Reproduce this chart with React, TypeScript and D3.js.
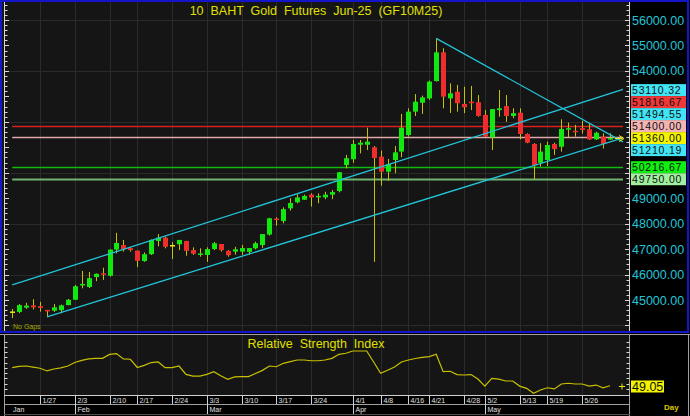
import React, { useEffect, useRef } from 'react';
import * as d3 from 'd3';

const dates = [
  '1/21', '1/22', '1/23', '1/24', '1/27', '1/28', '1/29', '1/30', '1/31',
  '2/3', '2/4', '2/5', '2/6', '2/7', '2/10', '2/11', '2/13', '2/14',
  '2/17', '2/18', '2/19', '2/20', '2/21', '2/24', '2/25', '2/26', '2/27', '2/28',
  '3/3', '3/4', '3/5', '3/6', '3/7', '3/10', '3/11', '3/12', '3/13', '3/14',
  '3/17', '3/18', '3/19', '3/20', '3/21', '3/24', '3/25', '3/26', '3/27', '3/28', '3/31',
  '4/1', '4/2', '4/3', '4/4', '4/8', '4/9', '4/10', '4/11', '4/16', '4/17', '4/18',
  '4/21', '4/22', '4/23', '4/24', '4/25', '4/28', '4/29', '4/30',
  '5/2', '5/6', '5/7', '5/8', '5/9', '5/13', '5/14', '5/15', '5/16',
  '5/19', '5/20', '5/21', '5/22', '5/23', '5/26', '5/27', '5/28', '5/29', '5/30',
];

const opens = [
  44550, 44530, 44700, 44790, 44760, 44610, 44580, 44600, 44800,
  45010, 45600, 45510, 45900, 46050, 45950, 46980, 47160, 47040,
  46940, 46530, 46800, 47320, 47450, 47160, 47190, 47320, 46960, 46780,
  46770, 47000, 47200, 46930, 46900, 46900, 46890, 47030, 47160, 47570,
  48200, 48100, 48600, 48840, 48940, 49140, 49030, 49030, 49140, 49280, 50300,
  50530, 51100, 51100, 51000, 50630, 50040, 50500, 50830, 51480, 52400, 52750,
  52920, 53600, 54730, 52920, 53180, 52700, 52790, 52770,
  52270, 51390, 52460, 52620, 52230, 52360, 51520, 51130, 50390,
  50500, 51130, 51020, 51700, 51650, 51750, 51710, 51310, 51420, 51310,
];
const highs = [
  44650, 44840, 44890, 45030, 44930, 44610, 44840, 44820, 45040,
  45590, 46140, 46100, 46040, 46270, 46990, 47640, 47360, 47070,
  46940, 46870, 47380, 47590, 47490, 47270, 47360, 47320, 47070, 47030,
  47070, 47280, 47200, 46960, 47090, 47160, 47040, 47290, 47590, 48230,
  48250, 48640, 49000, 49150, 49140, 49190, 49190, 49250, 49320, 50030, 50700,
  51290, 51290, 51770, 51050, 50870, 50540, 51050, 52310, 52530, 53090, 53030,
  53620, 55280, 54890, 53510, 53450, 53380, 53410, 53050,
  52460, 52500, 53250, 53050, 52530, 52530, 51550, 51160, 51160,
  51220, 51180, 52100, 51970, 51880, 52040, 51910, 51610, 51550, 51550,
];
const lows = [
  44290, 44480, 44650, 44630, 44540, 44340, 44530, 44480, 44790,
  45000, 45460, 45470, 45740, 45790, 45920, 46830, 46900, 46900,
  46290, 46500, 46770, 47110, 47030, 46610, 46960, 46740, 46770, 46700,
  46500, 46960, 46900, 46700, 46780, 46770, 46780, 46990, 47050, 47530,
  47920, 48010, 48510, 48800, 48930, 48670, 48800, 48960, 48960, 49230, 50170,
  50390, 50760, 50890, 46500, 49490, 49680, 49980, 50610, 51420, 52230, 52310,
  52860, 53580, 52530, 52350, 52400, 52340, 52460, 52200,
  51390, 50890, 52200, 52000, 52140, 51310, 51160, 49730, 50240,
  50260, 50700, 50830, 51390, 51420, 51540, 51290, 51290, 50950, 51290,
];
const closes = [
  44550, 44800, 44780, 44710, 44690, 44570, 44710, 44790, 45010,
  45540, 45630, 45860, 46030, 46020, 46980, 47240, 46990, 46960,
  46540, 46800, 47360, 47450, 47090, 47160, 47360, 46930, 46820, 46830,
  47000, 47230, 46960, 46760, 46990, 47040, 47040, 47230, 47590, 48210,
  48170, 48570, 48810, 49030, 49090, 49030, 49090, 49140, 49240, 50020, 50570,
  51130, 51180, 51220, 50580, 50040, 50340, 50800, 51770, 52400, 52790, 52960,
  53580, 54730, 52990, 53120, 52730, 52570, 52730, 52230,
  51420, 52500, 52530, 52230, 52340, 51520, 51180, 50300, 50830,
  51090, 50930, 51720, 51750, 51610, 51680, 51310, 51570, 51130, 51360,
];

const rsi = [
  61.1, 62.0, 62.2, 61.5, 60.7, 58.9, 60.2, 60.9, 62.2,
  64.5, 65.9, 66.9, 67.3, 67.3, 69.9, 70.5, 66.9, 66.7,
  61.2, 62.6, 64.5, 64.9, 61.1, 61.1, 62.2, 56.6, 55.5, 55.5,
  56.6, 58.4, 55.7, 53.3, 54.9, 55.1, 55.1, 57.2, 59.3, 62.2,
  61.7, 64.0, 65.1, 66.2, 66.2, 65.7, 65.7, 66.2, 67.3, 70.0, 70.7,
  72.2, 72.2, 72.2, 64.9, 57.3, 59.4, 61.5, 64.9, 66.2, 67.2, 67.9,
  68.5, 70.0, 58.4, 58.7, 56.5, 56.2, 56.5, 53.5,
  48.8, 54.0, 53.5, 52.2, 52.2, 48.8, 47.3, 44.0, 46.2,
  47.7, 46.9, 50.2, 50.7, 50.2, 50.2, 48.8, 49.5, 47.7, 49.05,
];

const weekTicks = ['1/27', '2/3', '2/10', '2/17', '2/24', '3/3', '3/10', '3/17', '3/24',
  '4/1', '4/8', '4/16', '4/21', '4/28', '5/2', '5/13', '5/19', '5/26'];
const monthNames = ['Jan', 'Feb', 'Mar', 'Apr', 'May'];
const monthStarts = ['1/21', '2/3', '3/3', '4/1', '5/2'];

const levelValues = [51816.67, 51400, 50216.67, 49750];
const levelColors = ['#d82020', '#e0a8a8', '#10b810', '#70b470'];
const levelBoxColors = ['#f03838', '#f4b4b4', '#10f010', '#a0f0a0'];

const trendFrom = [0, 5, 61];
const trendFromValues = [45590, 44340, 55280];
const trendToValues = [53110.32, 51210.19, 51494.55];

const lastPrice = 51360;
const lastRsi = 49.05;

const App: React.FC = () => {
  const svgRef = useRef<SVGSVGElement>(null);

  useEffect(() => {
    if (!svgRef.current) return;
    const svg = d3.select(svgRef.current);
    svg.selectAll('*').remove();

    const font = 'Liberation Sans, Arial, sans-serif';
    const last = dates.length - 1;
    const x = d3.scaleLinear().domain([0, last]).range([12.2, 610]);
    const y = d3.scaleLinear().domain([45000, 56000]).range([300, 20]);
    const ry = d3.scaleLinear().domain([40, 80]).range([399.3, 339.3]);
    const px = (i: number) => Math.round(x(i)) + 0.5;
    const endIdx = x.invert(623);
    const cyan = '#22c4d8';
    const wick = '#c8c000';

    svg.append('rect').attr('width', 690).attr('height', 416).attr('fill', '#000');
    svg.append('rect').attr('x', 2).attr('y', 2).attr('width', 627).attr('height', 329).attr('fill', '#151515');
    svg.append('rect').attr('x', 5).attr('y', 335).attr('width', 624).attr('height', 60).attr('fill', '#151515');

    // Grid
    const grid = svg.append('g').attr('stroke', '#2b2b2b').attr('stroke-width', 1);
    d3.range(44000, 56001, 2000).forEach(v => {
      const yy = Math.round(y(v)) + 0.5;
      grid.append('line').attr('x1', 9).attr('x2', 629).attr('y1', yy).attr('y2', yy);
    });
    weekTicks.forEach(d => {
      const xx = px(dates.indexOf(d));
      grid.append('line').attr('x1', xx).attr('x2', xx).attr('y1', 2).attr('y2', 331);
      grid.append('line').attr('x1', xx).attr('x2', xx).attr('y1', 335).attr('y2', 395);
    });

    // Horizontal levels
    levelValues.forEach((v, i) => {
      const yy = Math.round(y(v)) + 0.5;
      svg.append('line')
        .attr('x1', x(0)).attr('x2', x(endIdx)).attr('y1', yy).attr('y2', yy)
        .attr('stroke', levelColors[i]).attr('stroke-width', i === 3 ? 2 : 1.4);
    });

    // Candles
    dates.forEach((_, i) => {
      const xx = px(i);
      svg.append('line')
        .attr('x1', xx).attr('x2', xx).attr('y1', y(highs[i])).attr('y2', y(lows[i]))
        .attr('stroke', wick).attr('stroke-width', 1);
      const o = opens[i], c = closes[i];
      const top = y(Math.max(o, c));
      const h = Math.max(1.5, Math.abs(y(o) - y(c)));
      svg.append('rect')
        .attr('x', xx - 2.5).attr('width', 5).attr('y', top).attr('height', h)
        .attr('fill', c > o ? '#10e810' : c < o ? '#f02c2c' : '#e8e800');
    });

    // Trend lines
    trendFrom.forEach((f, i) => {
      const v0 = trendFromValues[i];
      const v1 = trendToValues[i];
      const vEnd = v0 + (v1 - v0) * (endIdx - f) / (last - f);
      svg.append('line')
        .attr('x1', x(f)).attr('y1', y(v0)).attr('x2', x(endIdx)).attr('y2', y(vEnd))
        .attr('stroke', cyan).attr('stroke-width', 1.3);
    });

    // last price arrow
    const ly = Math.round(y(lastPrice)) + 0.5;
    svg.append('line').attr('x1', 615).attr('x2', 622).attr('y1', ly).attr('y2', ly).attr('stroke', '#e8e800');
    svg.append('path').attr('d', `M619,${ly - 3}L624,${ly}L619,${ly + 3}`).attr('fill', 'none').attr('stroke', '#e8e800');

    // Left ruler and right axis
    const ax = svg.append('g').attr('stroke', '#d8d8d8').attr('stroke-width', 1);
    ax.append('line').attr('x1', 4.5).attr('x2', 4.5).attr('y1', 2).attr('y2', 331);
    ax.append('line').attr('x1', 629.5).attr('x2', 629.5).attr('y1', 2).attr('y2', 331);
    d3.range(44000, 56801, 200).forEach(v => {
      const yy = Math.round(y(v)) + 0.5;
      if (yy < 3 || yy > 331) return;
      const major = v % 1000 === 0;
      ax.append('line').attr('x1', 4.5).attr('x2', major ? 9 : 7.5).attr('y1', yy).attr('y2', yy);
      ax.append('line').attr('x1', 629.5).attr('x2', major ? 625 : 626.5).attr('y1', yy).attr('y2', yy);
    });

    // Value boxes on price axis
    const boxes = [
      ...trendToValues.map(v => ({ v, fill: '#40e4f4' })),
      ...levelValues.map((v, i) => ({ v, fill: levelBoxColors[i] })),
      { v: lastPrice, fill: '#f4f400' },
    ].sort((a, b) => b.v - a.v);
    const anchor = boxes.findIndex(b => b.v === lastPrice);
    const pos = boxes.map(b => y(b.v));
    for (let i = anchor - 1; i >= 0; i--) pos[i] = Math.min(pos[i], pos[i + 1] - 12);
    for (let i = anchor + 1; i < boxes.length; i++) pos[i] = Math.max(pos[i], pos[i - 1] + 12);

    y.ticks(11).forEach(v => {
      if (v < 45000 || v > 56000) return;
      if (pos.some(p => Math.abs(p - y(v)) < 10)) return;
      svg.append('text')
        .attr('x', 632).attr('y', y(v) + 4.5)
        .attr('fill', cyan).style('font-family', font).style('font-size', '12.5px')
        .text(d3.format('.2f')(v));
    });

    boxes.forEach((b, i) => {
      svg.append('rect')
        .attr('x', 631).attr('y', pos[i] - 6).attr('width', 55).attr('height', 12)
        .attr('fill', b.fill);
      svg.append('text')
        .attr('x', 632).attr('y', pos[i] + 4)
        .attr('fill', '#101010').style('font-family', font).style('font-size', '10.5px')
        .style('letter-spacing', '0.8px')
        .text(d3.format('.2f')(b.v));
    });

    // Title
    svg.append('text')
      .attr('x', 316).attr('y', 15).attr('text-anchor', 'middle')
      .attr('fill', '#e0e000').style('font-family', font).style('font-size', '12.5px')
      .style('white-space', 'pre')
      .text('10  BAHT  Gold  Futures  Jun-25  (GF10M25)');

    svg.append('text')
      .attr('x', 13).attr('y', 329)
      .attr('fill', '#a8a800').style('font-family', font).style('font-size', '7px')
      .text('No Gaps');

    // Main frame
    svg.append('rect').attr('x', 1).attr('y', 1).attr('width', 687).attr('height', 331)
      .attr('fill', 'none').attr('stroke', '#1414c8').attr('stroke-width', 2);

    // RSI panel
    const pg = svg.append('g').attr('stroke', '#a0a0a0').attr('stroke-width', 1);
    pg.append('line').attr('x1', 0).attr('x2', 690).attr('y1', 334.5).attr('y2', 334.5);
    pg.append('line').attr('x1', 629.5).attr('x2', 629.5).attr('y1', 334).attr('y2', 416);
    pg.append('line').attr('x1', 688.5).attr('x2', 688.5).attr('y1', 334).attr('y2', 416);
    pg.append('line').attr('x1', 4.5).attr('x2', 4.5).attr('y1', 334).attr('y2', 416);
    pg.append('line').attr('x1', 4).attr('x2', 630).attr('y1', 395.5).attr('y2', 395.5).attr('stroke', '#d0d0d0');
    pg.append('line').attr('x1', 4).attr('x2', 630).attr('y1', 404.5).attr('y2', 404.5);
    pg.append('line').attr('x1', 4).attr('x2', 630).attr('y1', 414.5).attr('y2', 414.5).attr('stroke', '#505050');

    const rt = svg.append('g').attr('stroke', '#d8d8d8');
    d3.range(40, 80.1, 3.5).forEach(v => {
      const yy = Math.round(ry(v)) + 0.5;
      if (yy < 337 || yy > 394) return;
      rt.append('line').attr('x1', 4.5).attr('x2', 7.5).attr('y1', yy).attr('y2', yy);
      rt.append('line').attr('x1', 629.5).attr('x2', 626.5).attr('y1', yy).attr('y2', yy);
    });

    const rsiLine = d3.line<number>().x((_, i) => x(i)).y(d => ry(d));
    svg.append('path').datum(rsi).attr('d', rsiLine)
      .attr('fill', 'none').attr('stroke', '#c8c000').attr('stroke-width', 1.2);

    svg.append('text')
      .attr('x', 316).attr('y', 347.5).attr('text-anchor', 'middle')
      .attr('fill', '#e0e000').style('font-family', font).style('font-size', '12.5px')
      .style('white-space', 'pre')
      .text('Relative  Strength  Index');

    const rly = Math.round(ry(lastRsi)) + 0.5;
    svg.append('path').attr('d', `M619,${rly}L625,${rly}M622,${rly - 3}L622,${rly + 3}`)
      .attr('stroke', '#e8e800').attr('fill', 'none');
    svg.append('rect').attr('x', 631).attr('y', rly - 6).attr('width', 33).attr('height', 12).attr('fill', '#f4f400');
    svg.append('text')
      .attr('x', 632).attr('y', rly + 4.5)
      .attr('fill', '#101010').style('font-family', font).style('font-size', '12.5px')
      .text(lastRsi.toFixed(2));

    svg.append('text')
      .attr('x', 664).attr('y', 410)
      .attr('fill', '#d8c800').style('font-family', font).style('font-size', '8px').style('font-weight', 'bold')
      .text('Day');

    // Date axis
    const da = svg.append('g');
    weekTicks.forEach(d => {
      const xx = px(dates.indexOf(d));
      da.append('line').attr('x1', xx).attr('x2', xx).attr('y1', 395).attr('y2', 404)
        .attr('stroke', '#d0d0d0');
      da.append('text')
        .attr('x', xx + 2).attr('y', 403)
        .attr('fill', '#e0e0e0').style('font-family', font).style('font-size', '7px')
        .text(d);
    });
    monthStarts.forEach((d, i) => {
      const xx = i === 0 ? 5 : px(dates.indexOf(d));
      if (i > 0) {
        da.append('line').attr('x1', xx).attr('x2', xx).attr('y1', 404).attr('y2', 414)
          .attr('stroke', '#d0d0d0');
      }
      da.append('text')
        .attr('x', xx + (i === 0 ? 8 : 2)).attr('y', 412)
        .attr('fill', '#e0e0e0').style('font-family', font).style('font-size', '7px')
        .text(monthNames[i]);
    });
  }, []);

  return (
    <svg ref={svgRef} width={690} height={416}
      style={{ position: 'absolute', left: 0, top: 0, display: 'block' }} />
  );
};

export default App;
